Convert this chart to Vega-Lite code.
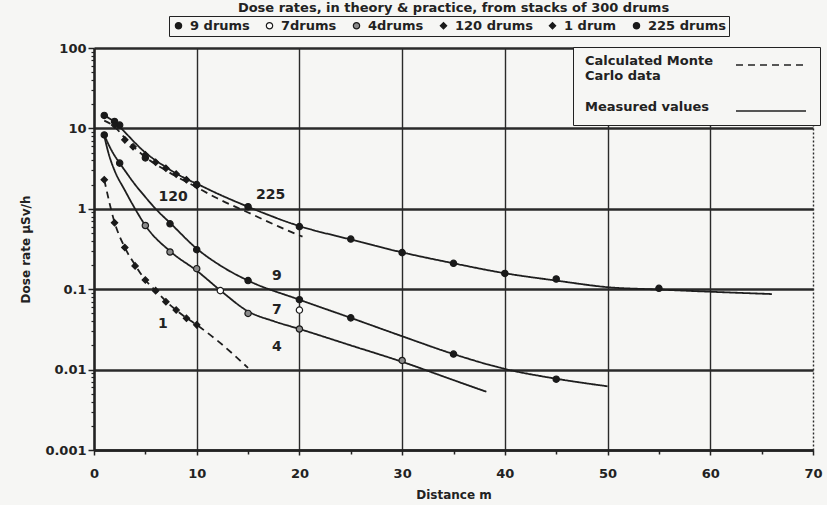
{
  "$schema": "https://vega.github.io/schema/vega-lite/v6.json",
  "width": 719,
  "height": 402,
  "autosize": {"type": "none"},
  "padding": {"left": 94, "top": 48, "right": 14, "bottom": 55},
  "background": "#f6f6f4",
  "title": {"text": "Dose rates, in theory & practice, from stacks of 300 drums", "font": "DejaVu Sans", "fontSize": 13, "fontWeight": "bold", "color": "#222", "anchor": "middle", "offset": 1},
  "config": {"view": {"stroke": null}, "font": "DejaVu Sans"},
  "datasets": {
    "curves": [
      {"curve": "225", "type": "Measured values", "distance": 1, "dose": 14.5},
      {"curve": "225", "type": "Measured values", "distance": 2, "dose": 12},
      {"curve": "225", "type": "Measured values", "distance": 3, "dose": 9},
      {"curve": "225", "type": "Measured values", "distance": 4, "dose": 6.6},
      {"curve": "225", "type": "Measured values", "distance": 5, "dose": 5.0},
      {"curve": "225", "type": "Measured values", "distance": 6, "dose": 4.0},
      {"curve": "225", "type": "Measured values", "distance": 7, "dose": 3.3},
      {"curve": "225", "type": "Measured values", "distance": 8, "dose": 2.75},
      {"curve": "225", "type": "Measured values", "distance": 9, "dose": 2.35},
      {"curve": "225", "type": "Measured values", "distance": 10, "dose": 2.05},
      {"curve": "225", "type": "Measured values", "distance": 12, "dose": 1.55},
      {"curve": "225", "type": "Measured values", "distance": 15, "dose": 1.06},
      {"curve": "225", "type": "Measured values", "distance": 20, "dose": 0.61},
      {"curve": "225", "type": "Measured values", "distance": 25, "dose": 0.415},
      {"curve": "225", "type": "Measured values", "distance": 30, "dose": 0.287},
      {"curve": "225", "type": "Measured values", "distance": 35, "dose": 0.21},
      {"curve": "225", "type": "Measured values", "distance": 40, "dose": 0.158},
      {"curve": "225", "type": "Measured values", "distance": 45, "dose": 0.128},
      {"curve": "225", "type": "Measured values", "distance": 50, "dose": 0.106},
      {"curve": "225", "type": "Measured values", "distance": 55, "dose": 0.099},
      {"curve": "225", "type": "Measured values", "distance": 60, "dose": 0.093},
      {"curve": "225", "type": "Measured values", "distance": 66, "dose": 0.087},
      {"curve": "120", "type": "Calculated Monte Carlo data", "distance": 1, "dose": 12.5},
      {"curve": "120", "type": "Calculated Monte Carlo data", "distance": 2, "dose": 10.5},
      {"curve": "120", "type": "Calculated Monte Carlo data", "distance": 3, "dose": 7.6},
      {"curve": "120", "type": "Calculated Monte Carlo data", "distance": 5, "dose": 4.4},
      {"curve": "120", "type": "Calculated Monte Carlo data", "distance": 7, "dose": 3.0},
      {"curve": "120", "type": "Calculated Monte Carlo data", "distance": 10, "dose": 1.85},
      {"curve": "120", "type": "Calculated Monte Carlo data", "distance": 12, "dose": 1.35},
      {"curve": "120", "type": "Calculated Monte Carlo data", "distance": 15, "dose": 0.9},
      {"curve": "120", "type": "Calculated Monte Carlo data", "distance": 18, "dose": 0.6},
      {"curve": "120", "type": "Calculated Monte Carlo data", "distance": 20.3, "dose": 0.45},
      {"curve": "9", "type": "Measured values", "distance": 1, "dose": 8.3},
      {"curve": "9", "type": "Measured values", "distance": 1.5, "dose": 6.0},
      {"curve": "9", "type": "Measured values", "distance": 2, "dose": 4.6},
      {"curve": "9", "type": "Measured values", "distance": 2.5, "dose": 3.7},
      {"curve": "9", "type": "Measured values", "distance": 3, "dose": 3.0},
      {"curve": "9", "type": "Measured values", "distance": 4, "dose": 2.0},
      {"curve": "9", "type": "Measured values", "distance": 5, "dose": 1.4},
      {"curve": "9", "type": "Measured values", "distance": 6, "dose": 1.0},
      {"curve": "9", "type": "Measured values", "distance": 7.5, "dose": 0.65},
      {"curve": "9", "type": "Measured values", "distance": 10, "dose": 0.32},
      {"curve": "9", "type": "Measured values", "distance": 12.5, "dose": 0.19},
      {"curve": "9", "type": "Measured values", "distance": 15, "dose": 0.128},
      {"curve": "9", "type": "Measured values", "distance": 20, "dose": 0.074},
      {"curve": "9", "type": "Measured values", "distance": 25, "dose": 0.044},
      {"curve": "9", "type": "Measured values", "distance": 30, "dose": 0.026},
      {"curve": "9", "type": "Measured values", "distance": 35, "dose": 0.0156},
      {"curve": "9", "type": "Measured values", "distance": 40, "dose": 0.0102},
      {"curve": "9", "type": "Measured values", "distance": 45, "dose": 0.0077},
      {"curve": "9", "type": "Measured values", "distance": 50, "dose": 0.0062},
      {"curve": "4", "type": "Measured values", "distance": 1, "dose": 8.0},
      {"curve": "4", "type": "Measured values", "distance": 1.5, "dose": 4.5},
      {"curve": "4", "type": "Measured values", "distance": 2, "dose": 3.0},
      {"curve": "4", "type": "Measured values", "distance": 3, "dose": 1.7},
      {"curve": "4", "type": "Measured values", "distance": 4, "dose": 1.0},
      {"curve": "4", "type": "Measured values", "distance": 5, "dose": 0.62},
      {"curve": "4", "type": "Measured values", "distance": 7.5, "dose": 0.29},
      {"curve": "4", "type": "Measured values", "distance": 10, "dose": 0.17},
      {"curve": "4", "type": "Measured values", "distance": 12.5, "dose": 0.092},
      {"curve": "4", "type": "Measured values", "distance": 15, "dose": 0.053},
      {"curve": "4", "type": "Measured values", "distance": 17.5, "dose": 0.04},
      {"curve": "4", "type": "Measured values", "distance": 20, "dose": 0.032},
      {"curve": "4", "type": "Measured values", "distance": 25, "dose": 0.02},
      {"curve": "4", "type": "Measured values", "distance": 30, "dose": 0.0125},
      {"curve": "4", "type": "Measured values", "distance": 35, "dose": 0.0074},
      {"curve": "4", "type": "Measured values", "distance": 38.2, "dose": 0.0053},
      {"curve": "1", "type": "Calculated Monte Carlo data", "distance": 1, "dose": 2.3},
      {"curve": "1", "type": "Calculated Monte Carlo data", "distance": 2, "dose": 0.68},
      {"curve": "1", "type": "Calculated Monte Carlo data", "distance": 3, "dose": 0.33},
      {"curve": "1", "type": "Calculated Monte Carlo data", "distance": 4, "dose": 0.2},
      {"curve": "1", "type": "Calculated Monte Carlo data", "distance": 5, "dose": 0.13},
      {"curve": "1", "type": "Calculated Monte Carlo data", "distance": 6, "dose": 0.096},
      {"curve": "1", "type": "Calculated Monte Carlo data", "distance": 7, "dose": 0.071},
      {"curve": "1", "type": "Calculated Monte Carlo data", "distance": 8, "dose": 0.055},
      {"curve": "1", "type": "Calculated Monte Carlo data", "distance": 9, "dose": 0.044},
      {"curve": "1", "type": "Calculated Monte Carlo data", "distance": 10, "dose": 0.036},
      {"curve": "1", "type": "Calculated Monte Carlo data", "distance": 12, "dose": 0.023},
      {"curve": "1", "type": "Calculated Monte Carlo data", "distance": 15, "dose": 0.0105}
    ],
    "points": [
      {"series": "225 drums", "distance": 1, "dose": 14.5},
      {"series": "225 drums", "distance": 2, "dose": 12.2},
      {"series": "225 drums", "distance": 2.5, "dose": 11.0},
      {"series": "225 drums", "distance": 5, "dose": 4.3},
      {"series": "225 drums", "distance": 10, "dose": 2.0},
      {"series": "225 drums", "distance": 15, "dose": 1.06},
      {"series": "225 drums", "distance": 20, "dose": 0.6},
      {"series": "225 drums", "distance": 25, "dose": 0.42},
      {"series": "225 drums", "distance": 30, "dose": 0.285},
      {"series": "225 drums", "distance": 35, "dose": 0.21},
      {"series": "225 drums", "distance": 40, "dose": 0.157},
      {"series": "225 drums", "distance": 45, "dose": 0.134},
      {"series": "225 drums", "distance": 55, "dose": 0.1025},
      {"series": "120 drums", "distance": 2, "dose": 11},
      {"series": "120 drums", "distance": 3, "dose": 7.2},
      {"series": "120 drums", "distance": 3.8, "dose": 5.9},
      {"series": "120 drums", "distance": 5, "dose": 4.7},
      {"series": "120 drums", "distance": 6, "dose": 3.8},
      {"series": "120 drums", "distance": 7, "dose": 3.2},
      {"series": "120 drums", "distance": 8, "dose": 2.7},
      {"series": "120 drums", "distance": 9, "dose": 2.3},
      {"series": "120 drums", "distance": 10, "dose": 1.95},
      {"series": "9 drums", "distance": 1, "dose": 8.3},
      {"series": "9 drums", "distance": 2.5, "dose": 3.7},
      {"series": "9 drums", "distance": 7.4, "dose": 0.65},
      {"series": "9 drums", "distance": 10, "dose": 0.31},
      {"series": "9 drums", "distance": 15, "dose": 0.128},
      {"series": "9 drums", "distance": 20, "dose": 0.074},
      {"series": "9 drums", "distance": 25, "dose": 0.044},
      {"series": "9 drums", "distance": 35, "dose": 0.0156},
      {"series": "9 drums", "distance": 45, "dose": 0.0076},
      {"series": "7drums", "distance": 12.3, "dose": 0.096},
      {"series": "7drums", "distance": 20, "dose": 0.055},
      {"series": "4drums", "distance": 5, "dose": 0.62},
      {"series": "4drums", "distance": 7.4, "dose": 0.29},
      {"series": "4drums", "distance": 10, "dose": 0.18},
      {"series": "4drums", "distance": 15, "dose": 0.05},
      {"series": "4drums", "distance": 20, "dose": 0.032},
      {"series": "4drums", "distance": 30, "dose": 0.013},
      {"series": "1 drum", "distance": 1, "dose": 2.3},
      {"series": "1 drum", "distance": 2, "dose": 0.67},
      {"series": "1 drum", "distance": 3, "dose": 0.33},
      {"series": "1 drum", "distance": 4, "dose": 0.195},
      {"series": "1 drum", "distance": 5, "dose": 0.13},
      {"series": "1 drum", "distance": 6, "dose": 0.096},
      {"series": "1 drum", "distance": 7, "dose": 0.07},
      {"series": "1 drum", "distance": 8, "dose": 0.055},
      {"series": "1 drum", "distance": 9, "dose": 0.0434},
      {"series": "1 drum", "distance": 10, "dose": 0.036}
    ],
    "labels": [
      {"label": "120", "distance": 7.7, "dose": 1.4},
      {"label": "225", "distance": 17.2, "dose": 1.5},
      {"label": "9", "distance": 17.8, "dose": 0.145},
      {"label": "7", "distance": 17.8, "dose": 0.055},
      {"label": "4", "distance": 17.8, "dose": 0.019},
      {"label": "1", "distance": 6.7, "dose": 0.037}
    ]
  },
  "layer": [
    {
      "data": {"name": "curves"},
      "mark": {"type": "line", "interpolate": "monotone", "strokeWidth": 1.8, "color": "#1e1e1e"},
      "encoding": {
        "x": {"field": "distance", "type": "quantitative", "scale": {"domain": [0, 70], "nice": false, "zero": false},
          "axis": {"values": [0, 10, 20, 30, 40, 50, 60, 70], "grid": true, "gridColor": "#2a2a2a", "gridWidth": 1.4,
            "gridDash": {"condition": {"test": "datum.value == 70", "value": [2, 2]}, "value": []},
            "tickSize": 5, "tickWidth": 1.5, "tickColor": "#222", "domainColor": "#222", "domainWidth": 2.5,
            "labelFont": "DejaVu Sans", "labelFontSize": 13, "labelFontWeight": "bold", "labelColor": "#222", "labelPadding": 12, "labelFlush": false,
            "title": "Distance  m", "titleFont": "DejaVu Sans", "titleFontSize": 12, "titleFontWeight": "bold", "titleColor": "#222", "titlePadding": 9}},
        "y": {"field": "dose", "type": "quantitative", "scale": {"type": "log", "domain": [0.001, 100], "nice": false},
          "axis": {"values": [0.001, 0.01, 0.1, 1, 10, 100], "format": "~g", "grid": true, "gridColor": "#2a2a2a", "gridWidth": 2.4,
            "tickSize": 6, "tickWidth": 1.5, "tickColor": "#222", "domainColor": "#222", "domainWidth": 2.5,
            "labelFont": "DejaVu Sans", "labelFontSize": 13, "labelFontWeight": "bold", "labelColor": "#222", "labelPadding": 2, "labelFlush": false,
            "title": "Dose rate  µSv/h", "titleFont": "DejaVu Sans", "titleFontSize": 12, "titleFontWeight": "bold", "titleColor": "#222", "titlePadding": 12}},
        "detail": {"field": "curve"},
        "strokeDash": {"field": "type", "type": "nominal",
          "scale": {"domain": ["Calculated Monte Carlo data", "Measured values"], "range": [[7, 5], [1, 0]]},
          "legend": {"title": null, "orient": "none", "legendX": 479, "legendY": -1, "direction": "vertical",
            "strokeColor": "#222", "fillColor": "#f6f6f4", "padding": 10,
            "symbolType": "M-5,0H5", "symbolSize": 196, "symbolStrokeWidth": 1.6, "symbolStrokeColor": "#222",
            "symbolOffset": 180, "labelOffset": -194, "labelAlign": "left", "labelBaseline": "alphabetic",
            "labelFont": "DejaVu Sans", "labelFontSize": 13, "labelFontWeight": "bold", "labelColor": "#222",
            "labelExpr": "datum.label == 'Calculated Monte Carlo data' ? ['Calculated Monte', 'Carlo data'] : datum.label",
            "rowPadding": 18}}
      }
    },
    {
      "data": {"name": "points"},
      "mark": {"type": "point", "filled": true, "strokeWidth": 1.2, "opacity": 1},
      "encoding": {
        "x": {"field": "distance", "type": "quantitative", "axis": null},
        "y": {"field": "dose", "type": "quantitative", "axis": null},
        "shape": {"field": "series", "type": "nominal",
          "scale": {"domain": ["9 drums", "7drums", "4drums", "120 drums", "1 drum", "225 drums"], "range": ["circle", "circle", "circle", "diamond", "diamond", "circle"]},
          "legend": {"title": null, "orient": "none", "legendX": 75, "legendY": -32, "direction": "horizontal", "strokeColor": "#222", "fillColor": "#f6f6f4", "padding": 3, "columnPadding": 13, "labelOffset": 5, "labelFont": "DejaVu Sans", "labelFontSize": 13, "labelFontWeight": "bold", "labelColor": "#222", "symbolStrokeWidth": 1.2}},
        "fill": {"field": "series", "type": "nominal",
          "scale": {"domain": ["9 drums", "7drums", "4drums", "120 drums", "1 drum", "225 drums"], "range": ["#1a1a1a", "#ffffff", "#8a8a8a", "#1a1a1a", "#1a1a1a", "#1a1a1a"]},
          "legend": {"title": null, "orient": "none", "legendX": 75, "legendY": -32, "direction": "horizontal", "strokeColor": "#222", "fillColor": "#f6f6f4", "padding": 3, "columnPadding": 13, "labelOffset": 5, "labelFont": "DejaVu Sans", "labelFontSize": 13, "labelFontWeight": "bold", "labelColor": "#222", "symbolStrokeWidth": 1.2}},
        "stroke": {"field": "series", "type": "nominal",
          "scale": {"domain": ["9 drums", "7drums", "4drums", "120 drums", "1 drum", "225 drums"], "range": ["#1a1a1a", "#1a1a1a", "#1a1a1a", "#1a1a1a", "#1a1a1a", "#1a1a1a"]},
          "legend": {"title": null, "orient": "none", "legendX": 75, "legendY": -32, "direction": "horizontal", "strokeColor": "#222", "fillColor": "#f6f6f4", "padding": 3, "columnPadding": 13, "labelOffset": 5, "labelFont": "DejaVu Sans", "labelFontSize": 13, "labelFontWeight": "bold", "labelColor": "#222", "symbolStrokeWidth": 1.2}},
        "size": {"field": "series", "type": "nominal",
          "scale": {"domain": ["9 drums", "7drums", "4drums", "120 drums", "1 drum", "225 drums"], "range": [40, 40, 45, 55, 110, 85]},
          "legend": {"title": null, "orient": "none", "legendX": 75, "legendY": -32, "direction": "horizontal", "strokeColor": "#222", "fillColor": "#f6f6f4", "padding": 3, "columnPadding": 13, "labelOffset": 5, "labelFont": "DejaVu Sans", "labelFontSize": 13, "labelFontWeight": "bold", "labelColor": "#222", "symbolStrokeWidth": 1.2}}
      }
    },
    {
      "data": {"name": "labels"},
      "mark": {"type": "text", "font": "DejaVu Sans", "fontSize": 14, "fontWeight": "bold", "color": "#222"},
      "encoding": {
        "x": {"field": "distance", "type": "quantitative",
          "axis": {"values": [5, 15, 25, 35, 45, 55, 65], "orient": "bottom", "labels": false, "grid": false, "domain": false, "tickSize": 4, "tickWidth": 1.5, "tickColor": "#222", "title": null}},
        "y": {"field": "dose", "type": "quantitative",
          "axis": {"values": [0.002, 0.003, 0.004, 0.005, 0.006, 0.007, 0.008, 0.009, 0.02, 0.03, 0.04, 0.05, 0.06, 0.07, 0.08, 0.09, 0.2, 0.3, 0.4, 0.5, 0.6, 0.7, 0.8, 0.9, 2, 3, 4, 5, 6, 7, 8, 9, 20, 30, 40, 50, 60, 70, 80, 90], "orient": "left", "labels": false, "grid": false, "domain": false, "tickSize": 3, "tickWidth": 1.2, "tickColor": "#222", "title": null}},
        "text": {"field": "label"}
      }
    }
  ],
  "resolve": {"axis": {"x": "independent", "y": "independent"}}
}
